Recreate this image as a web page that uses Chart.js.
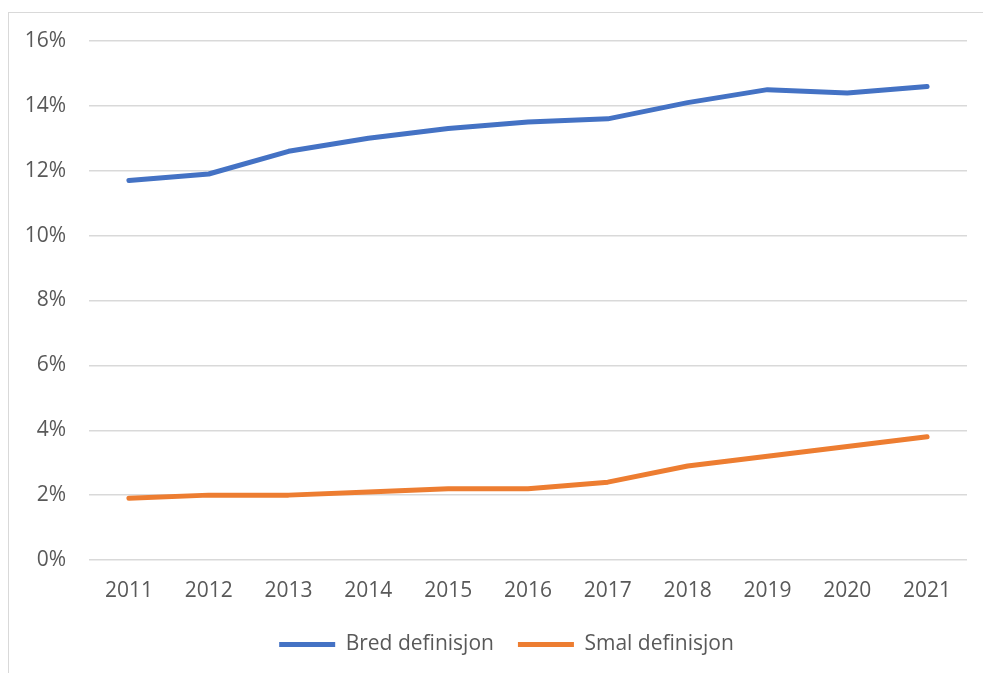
<!DOCTYPE html>
<html>
<head>
<meta charset="utf-8">
<script src="https://cdn.jsdelivr.net/npm/chart.js@4"></script>
<style>
  html, body { margin: 0; padding: 0; background: #fff; overflow: hidden; }
  #frame { position: absolute; left: 8px; top: 12px; width: 1000px; height: 700px; border: 1px solid #d9d9d9; }
  #wrap { position: absolute; left: 0; top: 0; width: 983px; height: 673px; }
</style>
</head>
<body>
<div id="frame"></div>
<div id="wrap"><canvas id="chart" width="983" height="673"></canvas></div>
<script>
const years = ['2011', '2012', '2013', '2014', '2015', '2016', '2017', '2018', '2019', '2020', '2021'];
const bred = [11.7, 11.9, 12.6, 13.0, 13.3, 13.5, 13.6, 14.1, 14.5, 14.4, 14.6];
const smal = [1.9, 2.0, 2.0, 2.1, 2.2, 2.2, 2.4, 2.9, 3.2, 3.5, 3.8];
const seriesNames = ['Bred definisjon', 'Smal definisjon'];

const textColor = '#595959';
const font = { family: '"Open Sans", sans-serif', size: 21 };

// legend is centred on the outer frame, not on the canvas
const legendShift = {
  id: 'legendShift',
  afterLayout(chart) {
    chart.legend.left += 23;
    chart.legend.right += 23;
  }
};

new Chart(document.getElementById('chart'), {
  type: 'line',
  data: {
    labels: years,
    datasets: [
      { label: seriesNames[0], data: bred, borderColor: '#4472c4', backgroundColor: '#4472c4', borderWidth: 5, pointRadius: 0, tension: 0, borderCapStyle: 'round', borderJoinStyle: 'round' },
      { label: seriesNames[1], data: smal, borderColor: '#ed7d31', backgroundColor: '#ed7d31', borderWidth: 5, pointRadius: 0, tension: 0, borderCapStyle: 'round', borderJoinStyle: 'round' }
    ]
  },
  plugins: [legendShift],
  options: {
    responsive: false,
    animation: false,
    layout: { padding: { left: 0, right: 16, top: 41, bottom: 8 } },
    plugins: {
      tooltip: { enabled: false },
      legend: {
        position: 'bottom',
        labels: {
          color: textColor, font: font,
          usePointStyle: true, pointStyle: 'line', pointStyleWidth: 56,
          padding: 24
        }
      }
    },
    scales: {
      x: {
        offset: true,
        grid: { display: false, drawTicks: false },
        border: { display: false },
        ticks: { color: textColor, font: font, padding: 18, maxRotation: 0 },
        afterFit: s => { s.height = 50; }
      },
      y: {
        min: 0, max: 16,
        grid: { color: '#d9d9d9', lineWidth: 1.5, drawTicks: false },
        border: { display: false },
        ticks: { stepSize: 2, color: textColor, font: font, padding: 23, callback: v => v + '%' },
        afterFit: s => { s.width = 89; }
      }
    }
  }
});
</script>
</body>
</html>
